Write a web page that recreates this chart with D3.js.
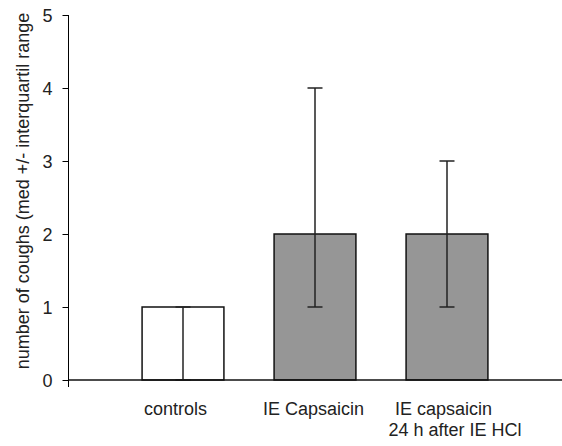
<!DOCTYPE html>
<html>
<head>
<meta charset="utf-8">
<script src="https://cdn.jsdelivr.net/npm/d3@7"></script>
<style>
  body { margin: 0; background: #fff; }
  svg { display: block; font-family: "Liberation Sans", Arial, sans-serif; }
</style>
</head>
<body>
<div id="chart"></div>
<script>
// values
const categories = ['controls', 'IE Capsaicin', 'IE capsaicin\n24 h after IE HCl']
const medians = [1, 2, 2]
const q1 = [0, 1, 1]
const q3 = [1, 4, 3]
const fills = ['#ffffff', '#969696', '#969696']
const yTicks = [0, 1, 2, 3, 4, 5]
const yLabel = 'number of coughs (med +/- interquartil range'

const width = 562, height = 446
const svg = d3.select('#chart').append('svg')
  .attr('width', width)
  .attr('height', height)

const y = d3.scaleLinear().domain([0, 5]).range([380, 15])
const x = d3.scaleBand().domain(categories).range([117, 513])
  .paddingInner(0.38).paddingOuter(0.19)

// bars
svg.selectAll('rect.bar')
  .data(categories)
  .enter().append('rect')
  .attr('class', 'bar')
  .attr('x', d => x(d))
  .attr('y', (d, i) => y(medians[i]))
  .attr('width', x.bandwidth())
  .attr('height', (d, i) => y(0) - y(medians[i]))
  .attr('fill', (d, i) => fills[i])
  .attr('stroke', '#111')
  .attr('stroke-width', 1.5)

// error bars (interquartile range)
const capW = 15
const eb = svg.selectAll('g.err')
  .data(categories)
  .enter().append('g')
  .attr('class', 'err')
  .attr('stroke', '#222')
  .attr('stroke-width', 1.5)
eb.append('line')
  .attr('x1', d => x(d) + x.bandwidth() / 2)
  .attr('x2', d => x(d) + x.bandwidth() / 2)
  .attr('y1', (d, i) => y(q1[i]))
  .attr('y2', (d, i) => y(q3[i]))
eb.selectAll('line.cap')
  .data((d, i) => [q1[i], q3[i]].map(v => ({ c: d, v: v })))
  .enter().append('line')
  .attr('class', 'cap')
  .attr('x1', d => x(d.c) + x.bandwidth() / 2 - capW / 2)
  .attr('x2', d => x(d.c) + x.bandwidth() / 2 + capW / 2)
  .attr('y1', d => y(d.v))
  .attr('y2', d => y(d.v))

// y axis
const yAxis = d3.axisLeft(y).tickValues(yTicks).tickFormat(d3.format('d'))
  .tickSize(6).tickPadding(10)
const gy = svg.append('g')
  .attr('transform', 'translate(68.5,0)')
  .call(yAxis)
gy.select('.domain').attr('d', 'M0,' + y(5) + 'V' + y(0)).attr('stroke', '#000')
gy.selectAll('.tick line').attr('stroke', '#000')
gy.selectAll('.tick text')
  .attr('font-size', 18)
  .attr('font-family', '"Liberation Sans", Arial, sans-serif')
  .attr('fill', '#222')
  .attr('dy', '0.36em')

// x axis line
svg.append('line')
  .attr('x1', 68.5).attr('x2', width)
  .attr('y1', y(0)).attr('y2', y(0))
  .attr('stroke', '#111').attr('stroke-width', 1.5)
svg.append('line')
  .attr('x1', 68.5).attr('x2', 68.5)
  .attr('y1', y(0)).attr('y2', y(0) + 7)
  .attr('stroke', '#000')

// category labels (small shifts to follow the original layout)
const lineShift = [[-7.5], [-1.5], [-3.5, 8]]
const labels = svg.selectAll('text.cat')
  .data(categories)
  .enter().append('text')
  .attr('class', 'cat')
  .attr('font-size', 18)
  .attr('fill', '#222')
  .attr('text-anchor', 'middle')
labels.each(function(d, i) {
  const cx = x(d) + x.bandwidth() / 2
  d.split('\n').forEach((ln, j) => {
    d3.select(this).append('tspan')
      .attr('x', cx + lineShift[i][j])
      .attr('y', 415 + j * 21)
      .text(ln)
  })
})

// y axis title
svg.append('text')
  .attr('transform', 'translate(29,191) rotate(-90)')
  .attr('text-anchor', 'middle')
  .attr('font-size', 18)
  .attr('fill', '#222')
  .text(yLabel)
</script>
</body>
</html>
